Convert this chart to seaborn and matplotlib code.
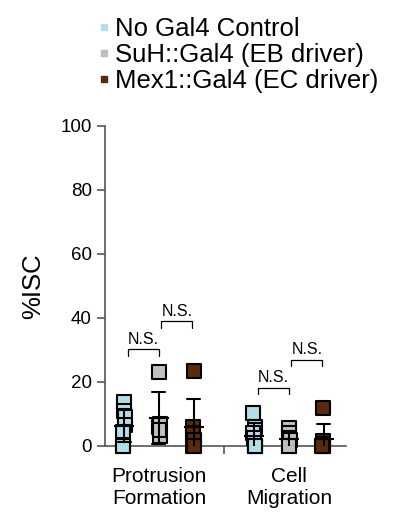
import numpy as np
import pandas as pd
import matplotlib
matplotlib.use("Agg")
import matplotlib.pyplot as plt
import seaborn as sns
from matplotlib.lines import Line2D

sns.set_style("ticks")
plt.rcParams['font.family'] = ['Liberation Sans', 'DejaVu Sans']
plt.rcParams['text.color'] = 'black'
plt.rcParams['axes.labelcolor'] = 'black'

categories = ["Protrusion\nFormation", "Cell\nMigration"]
genotypes = ["No Gal4 Control", "SuH::Gal4 (EB driver)", "Mex1::Gal4 (EC driver)"]
colors = ["#b3dde8", "#c0c0c0", "#5a2a0c"]

prot_ctrl = [13.6, 10.8, 9.2, 6.6, 4.5, 0.0, 0.0]
prot_suh = [23.0, 6.0, 7.0, 3.0, 5.0]
prot_mex = [23.4, 6.0, 4.0, 2.0, 0.0, 0.0]
mig_ctrl = [10.3, 5.9, 4.0, 2.4, 0.0, 0.0, 0.0]
mig_suh = [5.6, 4.0, 1.9, 0.0, 0.0]
mig_mex = [11.8, 1.5, 0.5, 0.0, 0.0, 0.0]

yticks = [0, 20, 40, 60, 80, 100]

rows = []
for cat, series in zip(categories, [[prot_ctrl, prot_suh, prot_mex], [mig_ctrl, mig_suh, mig_mex]]):
    for g, vals in zip(genotypes, series):
        for v in vals:
            rows.append({"cat": cat, "geno": g, "val": v})
df = pd.DataFrame(rows)

fig = plt.figure(figsize=(3.93, 5.29), dpi=100)
ax = fig.add_axes([0.267, 0.157, 0.613, 0.605])

sns.stripplot(data=df, x="cat", y="val", hue="geno", order=categories, hue_order=genotypes,
              palette=colors, dodge=True, jitter=0.03, marker="s", size=10,
              edgecolor="black", linewidth=1.5, ax=ax, legend=False, clip_on=False, zorder=3)
sns.pointplot(data=df, x="cat", y="val", hue="geno", order=categories, hue_order=genotypes,
              palette=["black"] * 3, dodge=0.5334, linestyle="none", errorbar="sd",
              markers="_", markersize=15, markeredgewidth=1.5, err_kws={"linewidth": 1.5},
              capsize=0.1, ax=ax, legend=False, zorder=4)

ax.set_ylim(0, 100)
ax.set_xlim(-0.415, 1.438)
ax.set_yticks(yticks)
ax.set_yticklabels([str(t) for t in yticks], fontsize=13.5)
ax.set_xticks([0.5])
ax.set_xticklabels([""])
ax.set_xticks([0, 1], categories, minor=True)
ax.tick_params(axis="x", which="minor", length=0, labelsize=15, pad=15, labelcolor="black")
ax.tick_params(axis="both", which="major", length=6, width=1.2, color="#555555",
               direction="out", labelcolor="black")
ax.set_xlabel("")
ax.set_ylabel("%ISC", fontsize=18.5, labelpad=11)
sns.despine(ax=ax)
for sp in ["left", "bottom"]:
    ax.spines[sp].set_color("#555555")
    ax.spines[sp].set_linewidth(1.2)

def bracket(x1, x2, y, h=2.0, text="N.S."):
    ax.plot([x1, x1, x2, x2], [y - h, y, y, y - h], color="black", lw=0.9, clip_on=False)
    ax.text((x1 + x2) / 2, y + 0.8, text, ha="center", va="bottom", fontsize=11.5, color="black")

off = 0.5334 / 2
bracket(-off + 0.03, 0.0, 30.2)
bracket(0.02, off - 0.01, 39.0)
bracket(1 - off + 0.03, 1.0, 18.2)
bracket(1.02, 1 + off - 0.01, 27.0)

handles = [Line2D([], [], marker="s", linestyle="none", markersize=5, markerfacecolor=c,
                  markeredgecolor=c) for c in colors]
leg = fig.legend(handles, genotypes, loc="upper left", bbox_to_anchor=(0.228, 0.988), frameon=False,
                 fontsize=18.5, handlelength=0.3, handletextpad=0.3, labelspacing=0.08,
                 borderaxespad=0, labelcolor="black")

fig.savefig("out.png", dpi=100)
